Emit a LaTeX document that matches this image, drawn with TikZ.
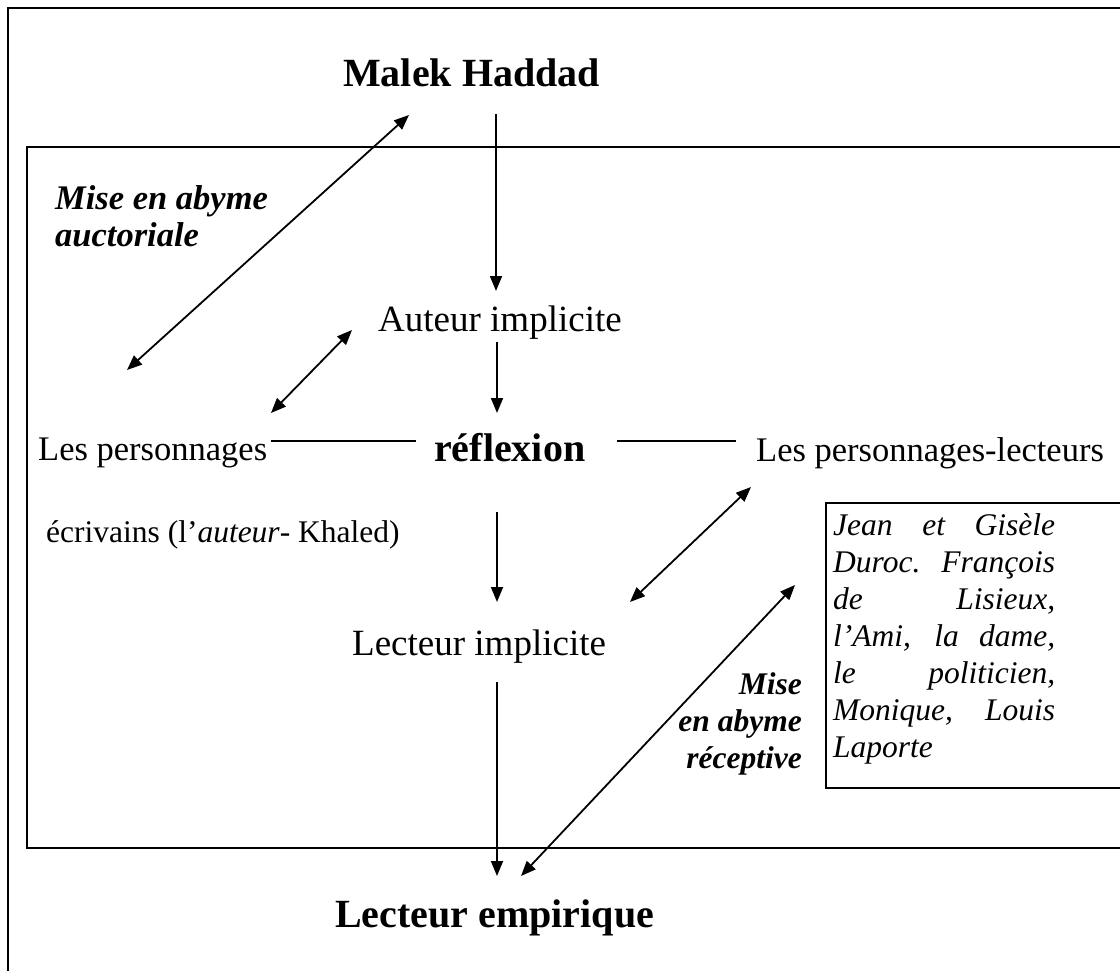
\documentclass[tikz,border=0pt]{standalone}
\usepackage{fontspec}
\setmainfont{Liberation Serif}
\usetikzlibrary{arrows.meta}
\begin{document}
\begin{tikzpicture}[x=1pt,y=-1pt,
  lbl/.style={inner sep=0pt, anchor=base west},
  lble/.style={inner sep=0pt, anchor=base east},
  big/.style={font=\fontsize{40}{48}\selectfont\bfseries},
  mid/.style={font=\fontsize{37}{44}\selectfont},
  reg/.style={font=\fontsize{34.5}{41}\selectfont},
  sml/.style={font=\fontsize{31.5}{37}\selectfont},
  bi/.style={font=\fontsize{34.5}{41}\selectfont\bfseries\itshape},
  bis/.style={font=\fontsize{31.5}{37}\selectfont\bfseries\itshape},
  itl/.style={font=\fontsize{31.5}{37}\selectfont\itshape},
  tip/.tip={Triangle[length=15pt,width=12pt]},
  arr/.style={line width=1.8pt, -tip},
  darr/.style={line width=1.8pt, tip-tip},
  plain/.style={line width=1.8pt},
  frame/.style={line width=2.4pt}]
\useasboundingbox (0,0) rectangle (1120,971);
\clip (0,0) rectangle (1120,971);
% frames
\draw[frame] (8,8) rectangle (1140,990);
\draw[frame] (27,147) rectangle (1140,848);
\draw[frame] (826,503) rectangle (1140,788);
% texts
\node[lbl,big] (mh) at (343,87) {Malek Haddad};
\node[lbl,mid] (ai) at (378,331) {Auteur implicite};
\node[lbl,big] (refl) at (434,461) {réflexion};
\node[lbl,reg] (lp) at (38,460) {Les personnages};
\node[lbl,reg] (lpl) at (756,461) {Les personnages-lecteurs};
\node[lbl,sml] (ecr) at (46,542) {écrivains (l’\textit{auteur}- Khaled)};
\node[lbl,mid] (li) at (352,655) {Lecteur implicite};
\node[lbl,big] (le) at (335,927) {Lecteur empirique};
\node[lbl,bi] (ma1) at (55,210) {Mise en abyme};
\node[lbl,bi] (ma2) at (55,247) {auctoriale};
\node[lble,bis] (mr1) at (802,694) {Mise};
\node[lble,bis] (mr2) at (802,731) {en abyme};
\node[lble,bis] (mr3) at (802,768) {réceptive};
\node[lbl,itl] (b1) at (833,535) {\makebox[222pt][s]{Jean et Gisèle}};
\node[lbl,itl] (b2) at (833,572) {\makebox[222pt][s]{Duroc. François}};
\node[lbl,itl] (b3) at (833,609) {\makebox[222pt][s]{de Lisieux,}};
\node[lbl,itl] (b4) at (833,646) {\makebox[222pt][s]{l’Ami, la dame,}};
\node[lbl,itl] (b5) at (833,683) {\makebox[222pt][s]{le politicien,}};
\node[lbl,itl] (b6) at (833,720) {\makebox[222pt][s]{Monique, Louis}};
\node[lbl,itl] (b7) at (833,757) {Laporte};
% connector end points
\coordinate (a1s) at (496,114); \coordinate (a1e) at (496,291);
\coordinate (a2s) at (497,342); \coordinate (a2e) at (497,413);
\coordinate (a3s) at (497,512); \coordinate (a3e) at (497,602);
\coordinate (a4s) at (497,682); \coordinate (a4e) at (497,876);
\coordinate (d1a) at (127,370); \coordinate (d1b) at (409,115);
\coordinate (d2a) at (271,413); \coordinate (d2b) at (352,330);
\coordinate (d3a) at (630,602); \coordinate (d3b) at (751,487);
\coordinate (d4a) at (521,876); \coordinate (d4b) at (795,585);
\coordinate (h1a) at (271,441); \coordinate (h1b) at (416,441);
\coordinate (h2a) at (617,441); \coordinate (h2b) at (736,441);
% connectors
\draw[arr] (a1s) -- (a1e);
\draw[arr] (a2s) -- (a2e);
\draw[arr] (a3s) -- (a3e);
\draw[arr] (a4s) -- (a4e);
\draw[darr] (d1a) -- (d1b);
\draw[darr] (d2a) -- (d2b);
\draw[darr] (d3a) -- (d3b);
\draw[darr] (d4a) -- (d4b);
\draw[plain] (h1a) -- (h1b);
\draw[plain] (h2a) -- (h2b);
\end{tikzpicture}
\end{document}
